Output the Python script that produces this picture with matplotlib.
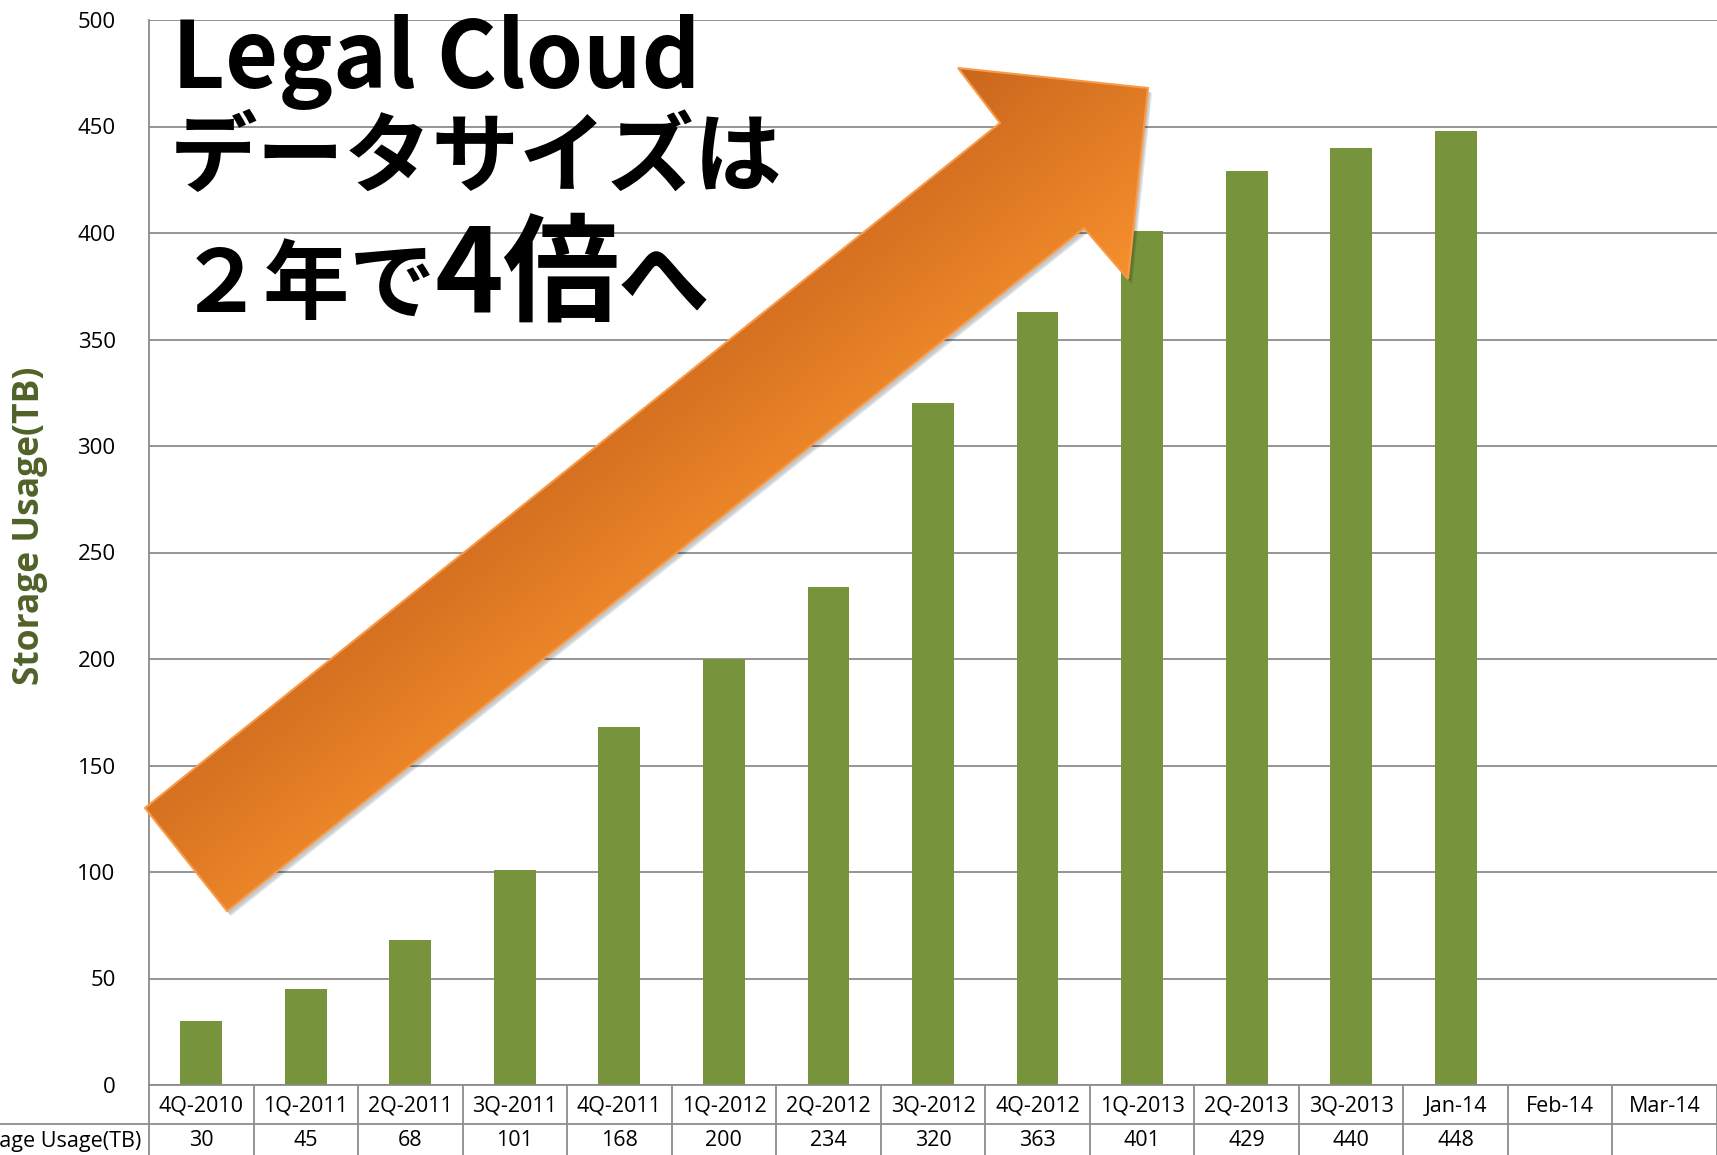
import numpy as np
import matplotlib
matplotlib.use("Agg")
import matplotlib.pyplot as plt
from matplotlib.patches import Polygon
from matplotlib.colors import LinearSegmentedColormap

# ---------------- data ----------------
categories = ["4Q-2010", "1Q-2011", "2Q-2011", "3Q-2011", "4Q-2011", "1Q-2012",
              "2Q-2012", "3Q-2012", "4Q-2012", "1Q-2013", "2Q-2013", "3Q-2013",
              "Jan-14", "Feb-14", "Mar-14"]
usage_tb = [30, 45, 68, 101, 168, 200, 234, 320, 363, 401, 429, 440, 448, None, None]
y_ticks = [0, 50, 100, 150, 200, 250, 300, 350, 400, 450, 500]
series_label = "Storage Usage(TB)"
title_line1 = "Legal Cloud"
title_line2 = "データサイズは"
title_line3 = ["２年で", "4倍", "へ"]

# ---------------- layout ----------------
W, H = 1717, 1155
fig = plt.figure(figsize=(W / 100, H / 100), dpi=100)
fig.patch.set_facecolor("white")

ax_l, ax_r, ax_t, ax_b = 149, 1717, 20, 1085
ax = fig.add_axes([ax_l / W, (H - ax_b) / H, (ax_r - ax_l) / W, (ax_b - ax_t) / H])

GRID = "#8c8c8c"
BAR = "#77933C"
TXT_FONT = ["Open Sans", "DejaVu Sans"]

x = np.arange(len(categories))
vals = np.array([np.nan if v is None else v for v in usage_tb], dtype=float)
ax.bar(x, vals, width=0.4, color=BAR, zorder=3)

ax.set_xlim(-0.5, len(categories) - 0.5)
ax.set_ylim(0, 500)
ax.set_yticks(y_ticks)
ax.set_yticklabels([str(t) for t in y_ticks], fontsize=16, family=TXT_FONT, color="#000000")
ax.tick_params(axis="y", length=0, pad=24)
ax.set_xticks([])
for s in ["top", "right", "bottom"]:
    ax.spines[s].set_visible(False)
ax.spines["left"].set_color(GRID)
ax.spines["left"].set_linewidth(1.3)
ax.yaxis.grid(True, color=GRID, lw=1.3)
ax.set_axisbelow(True)

# ---------------- data table under the axis ----------------
axh = ax_b - ax_t
xt = ax.get_xaxis_transform()
r1 = -39 / axh            # bottom of category row
r2 = -80 / axh            # beyond figure bottom
cmid = -(1106 - ax_b) / axh
vmid = -(1141 - ax_b) / axh
left_px_data = -0.5 - ax_l / ((ax_r - ax_l) / len(categories))
ax.plot([-0.5, len(categories) - 0.5], [0, 0], transform=xt, color=GRID, lw=1.3, clip_on=False, zorder=4)
ax.plot([left_px_data - 1, len(categories) - 0.5], [r1, r1], transform=xt, color=GRID, lw=1.3, clip_on=False)
for b in np.arange(-0.5, len(categories) + 0.5, 1.0):
    ax.plot([b, b], [0, r2], transform=xt, color=GRID, lw=1.3, clip_on=False)
for i, c in enumerate(categories):
    ax.text(i, cmid, c, transform=xt, ha="center", va="center", fontsize=15.5,
            family=TXT_FONT, color="#000000", clip_on=False)
    if usage_tb[i] is not None:
        ax.text(i, vmid, str(usage_tb[i]), transform=xt, ha="center", va="center",
                fontsize=15.5, family=TXT_FONT, color="#000000", clip_on=False)
ax.text(-0.57, vmid, series_label, transform=xt, ha="right", va="center", fontsize=15.5,
        family=TXT_FONT, color="#000000", clip_on=False)

# y label
fig.text(30 / W, 1 - 526 / H, series_label, rotation=90, ha="center", va="center",
         fontsize=25.5, fontweight="bold", family=TXT_FONT, color="#4F6228")

# ---------------- decorative arrow (pixel overlay) ----------------
ov = fig.add_axes([0, 0, 1, 1], zorder=5)
ov.set_xlim(0, W)
ov.set_ylim(H, 0)
ov.axis("off")
ov.patch.set_alpha(0)

arrow_pts = np.array([(145, 808), (1000, 123), (958, 68), (1148, 88),
                      (1128, 279), (1084, 228), (227, 911)], dtype=float)
for k, a in enumerate([0.06, 0.08, 0.10]):
    off = np.array([2 + k, 3 + k])
    ov.add_patch(Polygon(arrow_pts + off, closed=True, facecolor="#000000",
                         alpha=a, edgecolor="none"))
poly = Polygon(arrow_pts, closed=True, facecolor="none", edgecolor="#F89A48", lw=1.5, zorder=3)
ov.add_patch(poly)
dvec = np.array([0.625, 0.78])
xs = np.linspace(130, 1160, 300)
ys = np.linspace(55, 925, 300)
XX, YY = np.meshgrid(xs, ys)
T = XX * dvec[0] + YY * dvec[1]
tv = arrow_pts @ dvec
T = (T - tv.min()) / (tv.max() - tv.min())
cmap = LinearSegmentedColormap.from_list("org", ["#C9661C", "#F7902D"])
im = ov.imshow(T, extent=(130, 1160, 925, 55), cmap=cmap, vmin=0, vmax=1,
               origin="upper", aspect="auto", interpolation="bilinear", zorder=2)
im.set_clip_path(poly)

# ---------------- big title text ----------------
JP = ["Noto Sans CJK JP", "DejaVu Sans"]
fig.text(172 / W, 1 - 88 / H, title_line1, fontsize=66, fontweight="bold", family=JP,
         va="baseline", ha="left", zorder=10)
fig.text(170 / W, 1 - 185 / H, title_line2, fontsize=63, fontweight="bold", family=JP,
         va="baseline", ha="left", zorder=10)

sizes3 = [62, 84, 66]
xpos = 178
base3 = 1 - 312 / H
renderer = fig.canvas.get_renderer()
for s, sz in zip(title_line3, sizes3):
    t = fig.text(xpos / W, base3, s, fontsize=sz, fontweight="bold", family=JP,
                 va="baseline", ha="left", zorder=10)
    bb = t.get_window_extent(renderer=renderer)
    xpos = bb.x1 - 2

fig.savefig("out.png", dpi=100)
